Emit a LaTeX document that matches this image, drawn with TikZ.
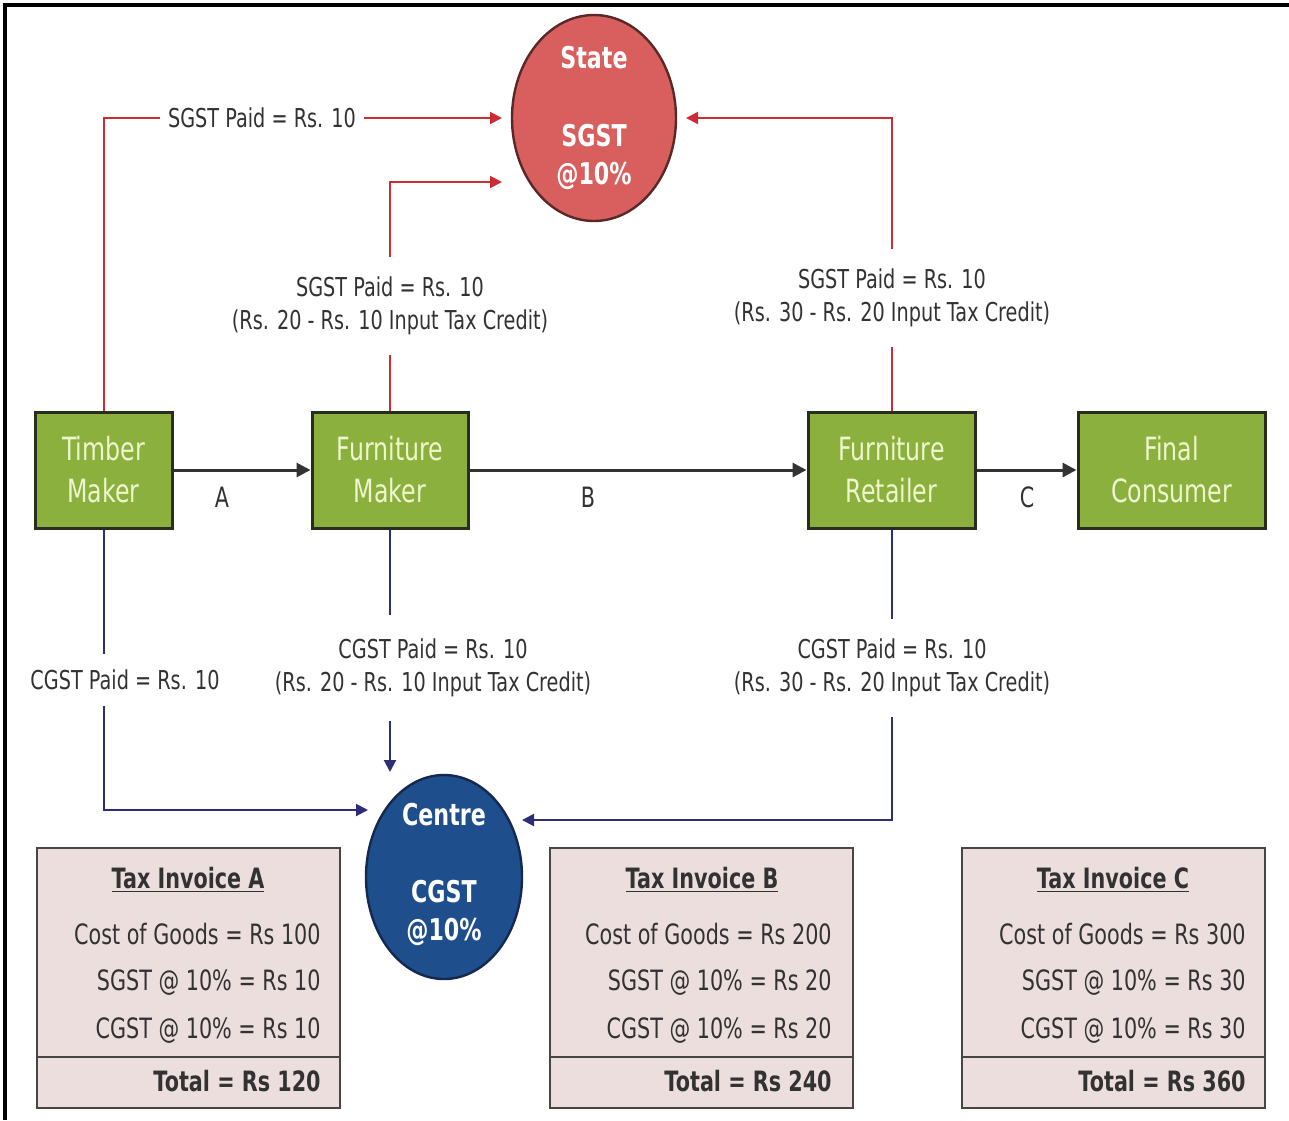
\documentclass[tikz,border=0pt]{standalone}
\usepackage{fontspec}
\setmainfont{DejaVu Sans}[FakeStretch=0.74]
\usetikzlibrary{arrows.meta,shapes.geometric}
\definecolor{gfill}{RGB}{140,176,62}
\definecolor{gtext}{RGB}{238,246,205}
\definecolor{gline}{RGB}{40,45,30}
\definecolor{sfill}{RGB}{217,94,94}
\definecolor{sline}{RGB}{90,40,40}
\definecolor{cfill}{RGB}{31,78,140}
\definecolor{cline}{RGB}{20,40,80}
\definecolor{ifill}{RGB}{237,222,222}
\definecolor{iline}{RGB}{70,70,70}
\definecolor{rline}{RGB}{205,45,50}
\definecolor{bline}{RGB}{45,45,120}
\definecolor{txt}{RGB}{50,50,50}
\tikzset{
  gbox/.style={draw=gline, line width=1.5pt, fill=gfill, text=gtext, minimum height=58pt,
    align=center, font=\fontsize{16}{21}\selectfont, inner sep=0pt},
  circ/.style={ellipse, line width=1.2pt, inner sep=0pt, text=white, align=center,
    font=\bfseries\fontsize{15}{19}\selectfont},
  lbl/.style={fill=white, text=txt, align=center, font=\fontsize{13}{16.5}\selectfont, inner sep=4pt},
  letter/.style={text=txt, font=\fontsize{14}{16}\selectfont, inner sep=0pt},
  flow/.style={draw=black!80, line width=1.5pt, -{Triangle[length=7pt,width=7pt]}},
  rflow/.style={draw=rline, line width=1pt, -{Triangle[length=6pt,width=6pt]}},
  bflow/.style={draw=bline, line width=1pt, -{Triangle[length=6pt,width=6pt]}},
  invbox/.style={draw=iline, line width=1.2pt, fill=ifill},
  invt/.style={text=txt, font=\fontsize{14}{16}\selectfont, inner sep=0pt, anchor=east},
  invh/.style={text=txt, font=\bfseries\fontsize{14}{16}\selectfont, inner sep=0pt},
}
\begin{document}
\begin{tikzpicture}[x=0.5pt,y=-0.5pt]
\useasboundingbox (0,0) rectangle (1289,1120);
% frame
\draw[line width=1.6pt] (5,1120) -- (5,5) -- (1289,5);

% tax circles
\node[circ, draw=sline, fill=sfill, minimum width=82pt, minimum height=103pt] (state) at (594,118) {};
\node[circ] (stateA) at (594,58) {State};
\node[circ] (stateB) at (594,157) {SGST\\@10\%};
\node[circ, draw=cline, fill=cfill, minimum width=78pt, minimum height=102pt] (centre) at (444,877) {};
\node[circ] (centreA) at (444,815) {Centre};
\node[circ] (centreB) at (444,913) {CGST\\@10\%};

% green boxes
\node[gbox, minimum width=68.5pt] (tm) at (103.5,470) {Timber\\Maker};
\node[gbox, minimum width=78pt] (fm) at (390,470) {Furniture\\Maker};
\node[gbox, minimum width=83.5pt] (fr) at (891.5,470) {Furniture\\Retailer};
\node[gbox, minimum width=93.5pt] (fc) at (1171.5,470) {Final\\Consumer};

% main flow
\draw[flow] (tm.east) -- (fm.west);
\draw[flow] (fm.east) -- (fr.west);
\draw[flow] (fr.east) -- (fc.west);
\node[letter] (la) at (222,497) {A};
\node[letter] (lb) at (588,497) {B};
\node[letter] (lc) at (1027,497) {C};

% SGST connectors
\coordinate (s1) at (502,118);
\coordinate (s2) at (502,182);
\coordinate (s3) at (686,118);
\draw[rflow] (tm.north) |- (s1);
\draw[rflow] (fm.north) |- (s2);
\draw[rflow] (fr.north) |- (s3);
\node[lbl] (sl1) at (262,118) {SGST Paid = Rs. 10};
\node[lbl, inner sep=10pt] (sl2) at (390,306) {SGST Paid = Rs. 10\\(Rs. 20 - Rs. 10 Input Tax Credit)};
\node[lbl, inner sep=10pt] (sl3) at (892,298) {SGST Paid = Rs. 10\\(Rs. 30 - Rs. 20 Input Tax Credit)};

% CGST connectors
\coordinate (c1) at (368,810);
\coordinate (c2) at (390,772);
\coordinate (c3) at (522,820);
\draw[bflow] (tm.south) |- (c1);
\draw[bflow] (fm.south) -- (c2);
\draw[bflow] (fr.south) |- (c3);
\node[lbl, inner sep=8pt] (cl1) at (125,680) {CGST Paid = Rs. 10};
\node[lbl, inner sep=12pt] (cl2) at (433,668) {CGST Paid = Rs. 10\\(Rs. 20 - Rs. 10 Input Tax Credit)};
\node[lbl, inner sep=10pt] (cl3) at (892,668) {CGST Paid = Rs. 10\\(Rs. 30 - Rs. 20 Input Tax Credit)};

% invoices
\draw[invbox] (37,848) rectangle (340,1108);
\draw[iline, line width=1.2pt] (37,1057) -- (340,1057);
\node[invh] (ia0) at (188,880) {\underline{Tax Invoice A}};
\node[invt] (ia1) at (321,934) {Cost of Goods = Rs 100};
\node[invt] (ia2) at (321,983) {SGST @ 10\% = Rs 10};
\node[invt] (ia3) at (321,1031) {CGST @ 10\% = Rs 10};
\node[invh, anchor=east] (ia4) at (321,1081) {Total = Rs 120};

\draw[invbox] (550,848) rectangle (853,1108);
\draw[iline, line width=1.2pt] (550,1057) -- (853,1057);
\node[invh] (ib0) at (702,880) {\underline{Tax Invoice B}};
\node[invt] (ib1) at (832,934) {Cost of Goods = Rs 200};
\node[invt] (ib2) at (832,983) {SGST @ 10\% = Rs 20};
\node[invt] (ib3) at (832,1031) {CGST @ 10\% = Rs 20};
\node[invh, anchor=east] (ib4) at (832,1081) {Total = Rs 240};

\draw[invbox] (962,848) rectangle (1265,1108);
\draw[iline, line width=1.2pt] (962,1057) -- (1265,1057);
\node[invh] (ic0) at (1113,880) {\underline{Tax Invoice C}};
\node[invt] (ic1) at (1246,934) {Cost of Goods = Rs 300};
\node[invt] (ic2) at (1246,983) {SGST @ 10\% = Rs 30};
\node[invt] (ic3) at (1246,1031) {CGST @ 10\% = Rs 30};
\node[invh, anchor=east] (ic4) at (1246,1081) {Total = Rs 360};
\end{tikzpicture}
\end{document}
